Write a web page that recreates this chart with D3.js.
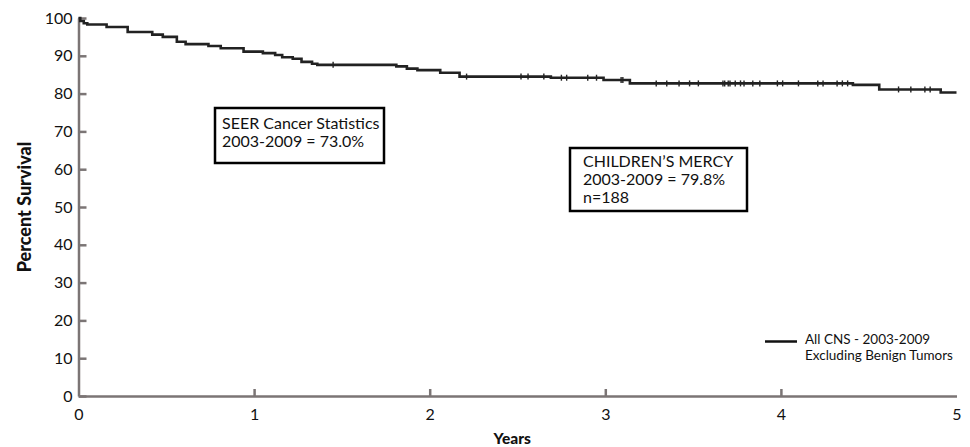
<!DOCTYPE html>
<html>
<head>
<meta charset="utf-8">
<script src="https://cdn.jsdelivr.net/npm/d3@7"></script>
<style>
  body { margin: 0; background: #fff; }
  svg text { font-family: Lato, "Open Sans", sans-serif; fill: #111; }
</style>
</head>
<body>
<div id="chart"></div>
<script>
// step curve: time in years, percent surviving after that time
const stepTimes = [0, 0.01, 0.03, 0.05, 0.16, 0.28, 0.42, 0.48, 0.56, 0.61, 0.74, 0.81, 0.94,
  1.05, 1.12, 1.16, 1.22, 1.27, 1.33, 1.36, 1.81, 1.87, 1.93, 2.06, 2.17, 2.69, 2.99, 3.14,
  4.41, 4.56, 4.91, 5.0];
const stepSurvival = [100, 99.2, 98.6, 98.3, 97.6, 96.3, 95.6, 95.0, 93.7, 93.1, 92.6, 92.0, 91.1,
  90.7, 90.2, 89.6, 89.2, 88.4, 87.9, 87.6, 87.2, 86.6, 86.2, 85.5, 84.5, 84.2, 83.6, 82.7,
  82.3, 81.1, 80.3, 80.3];
// censored cases (tick marks on the curve)
const censorTimes = [1.45, 2.21, 2.52, 2.56, 2.65, 2.75, 2.78, 2.90, 2.95, 3.09, 3.10, 3.29, 3.35,
  3.42, 3.48, 3.53, 3.67, 3.68, 3.70, 3.71, 3.74, 3.77, 3.79, 3.84, 3.88, 3.98, 4.01, 4.10,
  4.21, 4.24, 4.32, 4.35, 4.38, 4.67, 4.74, 4.82, 4.85];

const xTicks = [0, 1, 2, 3, 4, 5];
const yTicks = [0, 10, 20, 30, 40, 50, 60, 70, 80, 90, 100];

const seerLines = ['SEER Cancer Statistics', '2003-2009 = 73.0%'];
const mercyLines = ["CHILDREN\u2019S MERCY", '2003-2009 = 79.8%', 'n=188'];
const legendLines = ['All CNS - 2003-2009', 'Excluding Benign Tumors'];

const width = 970;
const height = 447;
const axisGray = '#7b7575';

const svg = d3.select('#chart').append('svg')
  .attr('width', width)
  .attr('height', height);

const x = d3.scaleLinear().domain([0, 5]).range([78.5, 956.5]);
const y = d3.scaleLinear().domain([0, 100]).range([396, 18]);

// y axis
const yAxis = svg.append('g')
  .attr('transform', `translate(${x(0)},0)`)
  .call(d3.axisLeft(y).tickValues(yTicks).tickSize(-8).tickSizeOuter(0).tickPadding(6));
yAxis.select('.domain').attr('stroke', axisGray).attr('stroke-width', 2.5);
yAxis.selectAll('.tick line').attr('stroke', axisGray).attr('stroke-width', 2.5);
yAxis.selectAll('.tick text').style('font-size', '16px').attr('fill', '#111');

// x axis
const xAxis = svg.append('g')
  .attr('transform', `translate(0,${y(0)})`)
  .call(d3.axisBottom(x).tickValues(xTicks).tickFormat(d3.format('d')).tickSize(-7).tickSizeOuter(0).tickPadding(13));
xAxis.select('.domain').attr('stroke', axisGray).attr('stroke-width', 2.5);
xAxis.selectAll('.tick line').attr('stroke', axisGray).attr('stroke-width', 2.5)
  .attr('display', d => (d === 0 || d === 5) ? 'none' : null);
xAxis.selectAll('.tick text').style('font-size', '16px').attr('fill', '#111');

// axis titles
svg.append('text')
  .attr('x', x(2.47))
  .attr('y', 444)
  .attr('text-anchor', 'middle')
  .style('font-size', '15.5px')
  .style('font-weight', '900')
  .text('Years');

svg.append('text')
  .attr('transform', `translate(31,${y(50)}) rotate(-90)`)
  .attr('text-anchor', 'middle')
  .style('font-size', '18px')
  .style('font-weight', '900')
  .text('Percent Survival');

// survival curve
const points = stepTimes.map((t, i) => [t, stepSurvival[i]]);
const line = d3.line()
  .x(d => x(d[0]))
  .y(d => y(d[1]))
  .curve(d3.curveStepAfter);

svg.append('path')
  .datum(points)
  .attr('fill', 'none')
  .attr('stroke', '#222')
  .attr('stroke-width', 2.6)
  .attr('d', line);

const bisect = d3.bisector(d => d).right;
svg.append('g')
  .selectAll('line')
  .data(censorTimes)
  .enter()
  .append('line')
  .attr('x1', d => x(d))
  .attr('x2', d => x(d))
  .attr('y1', d => y(stepSurvival[bisect(stepTimes, d) - 1]) - 3)
  .attr('y2', d => y(stepSurvival[bisect(stepTimes, d) - 1]) + 3)
  .attr('stroke', '#222')
  .attr('stroke-width', 1.4);

// annotation boxes
function addBox(bx, by, bw, bh, lines, tx, ty, lh) {
  const g = svg.append('g');
  g.append('rect')
    .attr('x', bx).attr('y', by)
    .attr('width', bw).attr('height', bh)
    .attr('fill', '#fff')
    .attr('stroke', '#000')
    .attr('stroke-width', 2.5);
  g.selectAll('text')
    .data(lines)
    .enter()
    .append('text')
    .attr('x', tx)
    .attr('y', (_, i) => ty + i * lh)
    .style('font-size', '16px')
    .text(d => d);
}
addBox(215, 108, 169, 55, seerLines, 222, 129, 18);
addBox(570, 148, 177, 63, mercyLines, 583, 167, 18);

// legend
svg.append('line')
  .attr('x1', 765).attr('x2', 797)
  .attr('y1', 341.5).attr('y2', 341.5)
  .attr('stroke', '#111')
  .attr('stroke-width', 2.5);

svg.append('g')
  .selectAll('text')
  .data(legendLines)
  .enter()
  .append('text')
  .attr('x', 805)
  .attr('y', (_, i) => 344 + i * 16)
  .style('font-size', '13.5px')
  .text(d => d);
</script>
</body>
</html>
